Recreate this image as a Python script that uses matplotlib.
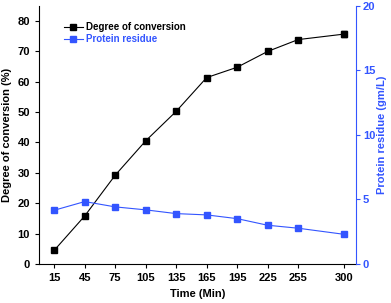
import matplotlib
matplotlib.use('Agg')
from matplotlib import pyplot as plt
from matplotlib.lines import Line2D

plt.rcParams['font.family'] = ['Liberation Sans', 'DejaVu Sans']
plt.rcParams['font.weight'] = 'bold'

# data
time_min = [15, 45, 75, 105, 135, 165, 195, 225, 255, 300]
conversion = [4.5, 15.8, 29.2, 40.5, 50.2, 61.3, 64.7, 69.9, 73.8, 75.6]
conversion_err = [0, 0, 0, 0, 0, 0, 0, 0, 0, 1.1]
protein = [4.16, 4.83, 4.42, 4.19, 3.9, 3.8, 3.51, 3.0, 2.77, 2.3]

blue = '#3355ff'

fig = plt.figure(figsize=(3.91, 3.03), dpi=100)
ax = fig.add_axes([0.0997, 0.1287, 0.8108, 0.853])
ax2 = ax.twinx()

ax.errorbar(time_min, conversion, yerr=conversion_err, color='black', lw=0.8,
            marker='s', ms=5, capsize=2, elinewidth=0.8)
ax2.plot(time_min, protein, color=blue, lw=0.8, marker='s', ms=5)

ax.set_xlim(0, 312)
ax.set_ylim(0, 85)
ax2.set_ylim(0, 20)
ax.set_xticks(time_min)
ax.set_yticks(range(0, 81, 10))
ax2.set_yticks([0, 5, 10, 15, 20])

for a in (ax, ax2):
    a.spines['top'].set_visible(False)
ax2.spines['left'].set_visible(False)
ax2.spines['bottom'].set_visible(False)
ax.spines['right'].set_visible(False)
ax2.spines['right'].set_color(blue)

ax.tick_params(labelsize=8, width=0.8, length=3)
ax2.tick_params(axis='y', labelsize=8, width=0.8, length=3, colors=blue, pad=2)

ax.set_xlabel('Time (Min)', fontsize=8, fontweight='bold', labelpad=4)
ax.set_ylabel('Degree of conversion (%)', fontsize=8, fontweight='bold', labelpad=4)
ax2.set_ylabel('Protein residue (gm/L)', fontsize=8, fontweight='bold', color=blue,
               rotation=90, labelpad=1)

handles = [Line2D([], [], color='black', lw=0.8, marker='s', ms=5),
           Line2D([], [], color=blue, lw=0.8, marker='s', ms=5)]
leg = ax.legend(handles, ['Degree of conversion', 'Protein residue'],
                loc='upper left', bbox_to_anchor=(0.05, 0.97), frameon=False,
                fontsize=7, handlelength=2, handletextpad=0.3, labelspacing=0.2)
leg.get_texts()[1].set_color(blue)

fig.savefig('out.png', dpi=100)
